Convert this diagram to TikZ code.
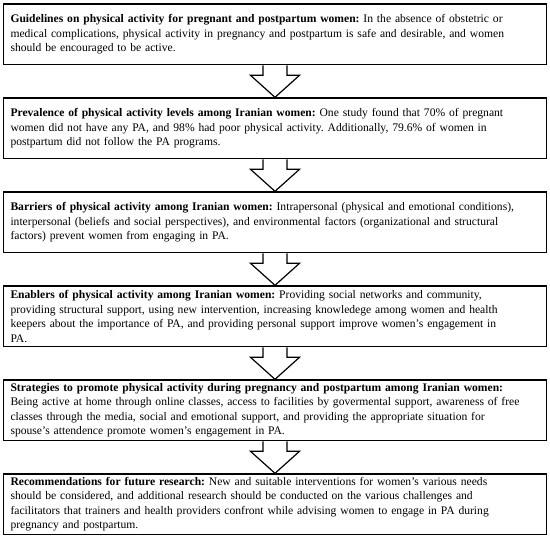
\documentclass[tikz,border=0pt]{standalone}
\usepackage{fontspec}
\setmainfont{Liberation Serif}
\usepackage{tikz}
\usetikzlibrary{positioning,calc}
\tikzset{
    Box/.style = {draw,line width=1.6pt,fill=white,inner xsep=7pt,inner ysep=0pt,
        text width=529pt,minimum height=60.4pt,align=left,
        font=\fontsize{11.6}{14.5}\selectfont\frenchspacing},
    BlockArrow/.style = {draw,line width=1.2pt,fill=white,line join=miter}
}
\begin{document}
\begin{tikzpicture}[x=1pt,y=-1pt,node distance=32pt]
        \useasboundingbox (0,0) rectangle (550,542);
        \node[Box,anchor=north] (guide) at (275,3.3) {\textbf{Guidelines on physical activity for pregnant and postpartum women:} In the absence of obstetric or\\
medical complications, physical activity in pregnancy and postpartum is safe and desirable, and women\\
should be encouraged to be active.};
        \node[Box,below=of guide] (prev) {\textbf{Prevalence of physical activity levels among Iranian women:} One study found that 70\% of pregnant\\
women did not have any PA, and 98\% had poor physical activity. Additionally, 79.6\% of women in\\
postpartum did not follow the PA programs.};
        \node[Box,below=of prev] (barr) {\textbf{Barriers of physical activity among Iranian women:} Intrapersonal (physical and emotional conditions),\\
interpersonal (beliefs and social perspectives), and environmental factors (organizational and structural\\
factors) prevent women from engaging in PA.};
        \node[Box,below=of barr] (enab) {\textbf{Enablers of physical activity among Iranian women:} Providing social networks and community,\\
providing structural support, using new intervention, increasing knowledege among women and health\\
keepers about the importance of PA, and providing personal support improve women's engagement in\\
PA.};
        \node[Box,below=of enab] (strat) {\textbf{Strategies to promote physical activity during pregnancy and postpartum among Iranian women:}\\
Being active at home through online classes, access to facilities by govermental support, awareness of free\\
classes through the media, social and emotional support, and providing the appropriate situation for\\
spouse's attendence promote women's engagement in PA.};
        \node[Box,below=of strat] (recom) {\textbf{Recommendations for future research:} New and suitable interventions for women's various needs\\
should be considered, and additional research should be conducted on the various challenges and\\
facilitators that trainers and health providers confront while advising women to engage in PA during\\
pregnancy and postpartum.};
        \foreach \A/\B in {guide/prev,prev/barr,barr/enab,enab/strat,strat/recom}
            {\draw[BlockArrow] ($(\A.south)+(-12,0)$) -- ++(0,10) -- ++(-12.5,0) -- (\B.north)
                -- ($(\A.south)+(24.5,10)$) -- ++(-12.5,0) -- ++(0,-10);}
        \end{tikzpicture}
\end{document}
